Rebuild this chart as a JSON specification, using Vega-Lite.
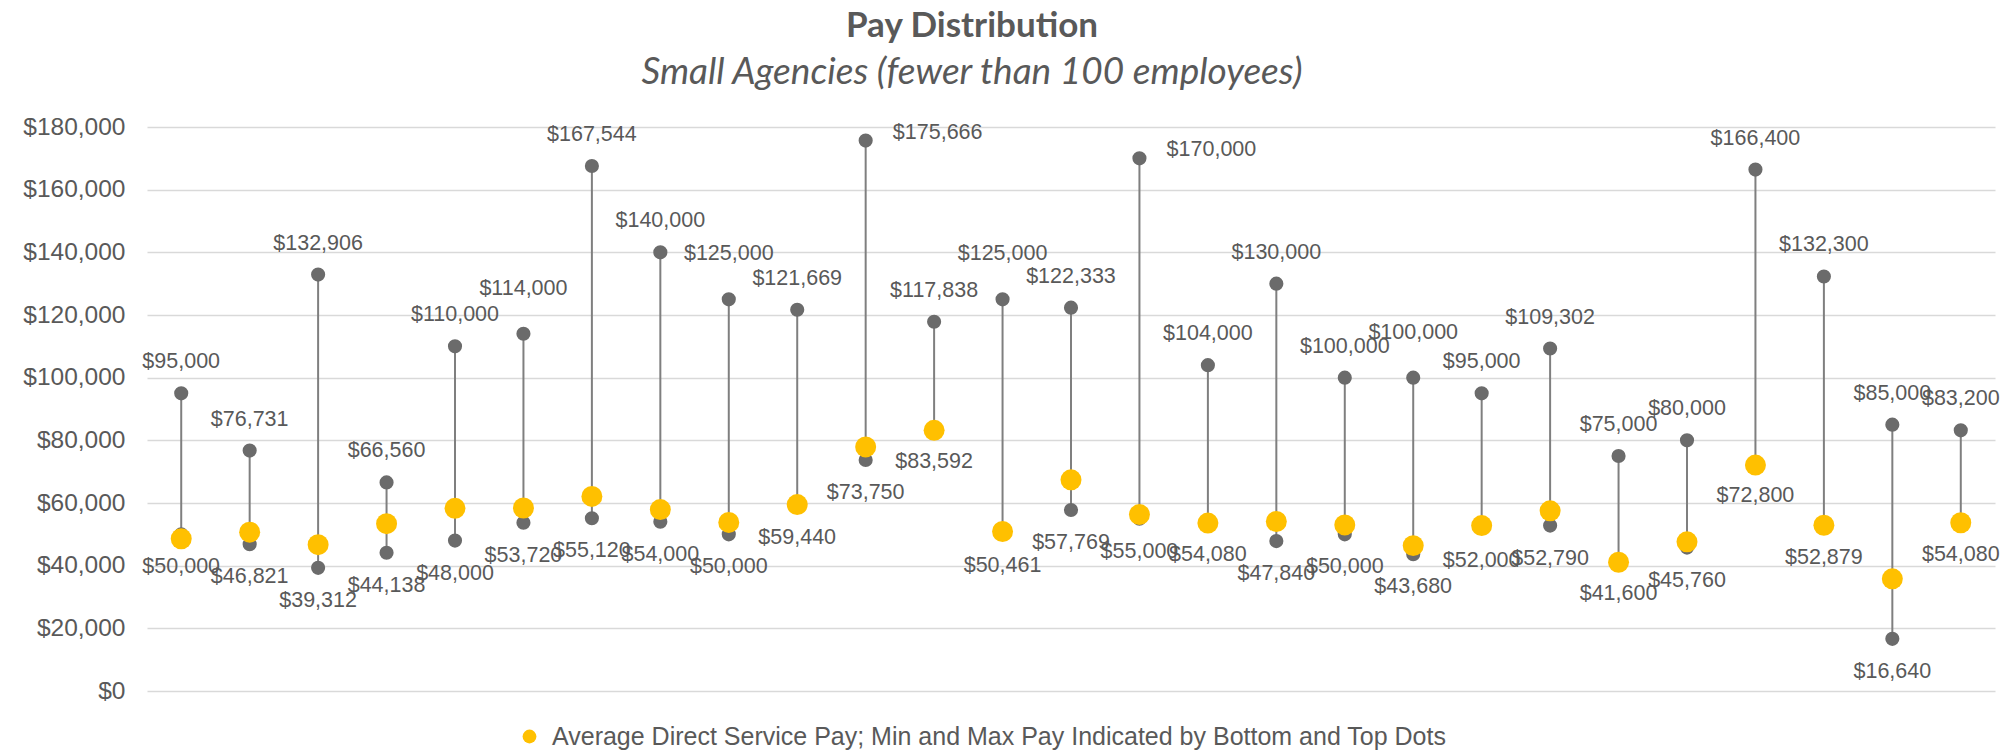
{
  "$schema": "https://vega.github.io/schema/vega-lite/v6.json",
  "autosize": {"type": "none"},
  "width": 1848,
  "height": 564,
  "padding": {"left": 147, "top": 127, "right": 13, "bottom": 61},
  "background": "#ffffff",
  "config": {"view": {"stroke": null}},
  "title": {
    "text": "Pay Distribution",
    "subtitle": "Small Agencies (fewer than 100 employees)",
    "anchor": "middle",
    "frame": "group",
    "dx": -99,
    "offset": 23,
    "font": "Lato",
    "fontSize": 35,
    "fontWeight": "bold",
    "color": "#595959",
    "subtitleFont": "Lato",
    "subtitleFontSize": 37,
    "subtitleFontStyle": "italic",
    "subtitleColor": "#595959",
    "subtitlePadding": 11
  },
  "data": {
    "values": [
      {"agency": 1, "max": 95000, "min": 50000, "avg": 48600},
      {"agency": 2, "max": 76731, "min": 46821, "avg": 50700},
      {"agency": 3, "max": 132906, "min": 39312, "avg": 46700},
      {"agency": 4, "max": 66560, "min": 44138, "avg": 53400},
      {"agency": 5, "max": 110000, "min": 48000, "avg": 58300},
      {"agency": 6, "max": 114000, "min": 53720, "avg": 58400},
      {"agency": 7, "max": 167544, "min": 55120, "avg": 62100},
      {"agency": 8, "max": 140000, "min": 54000, "avg": 57900},
      {"agency": 9, "max": 125000, "min": 50000, "avg": 53800},
      {"agency": 10, "max": 121669, "min": 59440, "avg": 59500},
      {"agency": 11, "max": 175666, "min": 73750, "avg": 77900},
      {"agency": 12, "max": 117838, "min": 83592, "avg": 83200},
      {"agency": 13, "max": 125000, "min": 50461, "avg": 50900},
      {"agency": 14, "max": 122333, "min": 57769, "avg": 67400},
      {"agency": 15, "max": 170000, "min": 55000, "avg": 56300},
      {"agency": 16, "max": 104000, "min": 54080, "avg": 53600},
      {"agency": 17, "max": 130000, "min": 47840, "avg": 54100},
      {"agency": 18, "max": 100000, "min": 50000, "avg": 53000},
      {"agency": 19, "max": 100000, "min": 43680, "avg": 46400},
      {"agency": 20, "max": 95000, "min": 52000, "avg": 52800},
      {"agency": 21, "max": 109302, "min": 52790, "avg": 57500},
      {"agency": 22, "max": 75000, "min": 41600, "avg": 41100},
      {"agency": 23, "max": 80000, "min": 45760, "avg": 47600},
      {"agency": 24, "max": 166400, "min": 72800, "avg": 72100},
      {"agency": 25, "max": 132300, "min": 52879, "avg": 52900},
      {"agency": 26, "max": 85000, "min": 16640, "avg": 35800},
      {"agency": 27, "max": 83200, "min": 54080, "avg": 53700}
    ]
  },
  "encoding": {
    "x": {
      "field": "agency",
      "type": "ordinal",
      "scale": {"type": "point", "padding": 0.5},
      "axis": null
    }
  },
  "layer": [
    {
      "mark": {"type": "rule", "color": "#7f7f7f", "strokeWidth": 2},
      "encoding": {
        "y": {
          "field": "min",
          "type": "quantitative",
          "scale": {"domain": [0, 180000]},
          "axis": {
            "values": [0, 20000, 40000, 60000, 80000, 100000, 120000, 140000, 160000, 180000],
            "format": "$,d",
            "title": null,
            "domain": false,
            "ticks": false,
            "labelPadding": 22,
            "labelFont": "Liberation Sans",
            "labelFontSize": 24.5,
            "labelColor": "#595959",
            "gridColor": "#d9d9d9",
            "gridWidth": 1.5
          }
        },
        "y2": {"field": "max"}
      }
    },
    {
      "mark": {"type": "circle", "color": "#6b6b6b", "opacity": 1, "size": 200},
      "encoding": {"y": {"field": "max", "type": "quantitative"}}
    },
    {
      "mark": {"type": "circle", "color": "#6b6b6b", "opacity": 1, "size": 200},
      "encoding": {"y": {"field": "min", "type": "quantitative"}}
    },
    {
      "mark": {"type": "circle", "opacity": 1, "size": 440},
      "encoding": {
        "y": {"field": "avg", "type": "quantitative"},
        "color": {
          "datum": "Average Direct Service Pay; Min and Max Pay Indicated by Bottom and Top Dots",
          "scale": {"range": ["#FFC000"]},
          "legend": {
            "orient": "none",
            "legendX": 370,
            "legendY": 597,
            "title": null,
            "padding": 0,
            "symbolType": "circle",
            "symbolSize": 190,
            "labelOffset": 10,
            "labelFont": "Liberation Sans",
            "labelFontSize": 25,
            "labelColor": "#595959",
            "labelLimit": 2000
          }
        }
      }
    },
    {
      "transform": [{"filter": "datum.agency != 6 && datum.agency != 9 && datum.agency != 11 && datum.agency != 13 && datum.agency != 15 && datum.agency != 19"}],
      "mark": {"type": "text", "dy": -31, "baseline": "middle", "font": "Liberation Sans", "fontSize": 21.5, "color": "#595959"},
      "encoding": {
        "y": {"field": "max", "type": "quantitative"},
        "text": {"field": "max", "type": "quantitative", "format": "$,d"}
      }
    },
    {
      "transform": [{"filter": "datum.agency == 6 || datum.agency == 9 || datum.agency == 13 || datum.agency == 19"}],
      "mark": {"type": "text", "dy": -45, "baseline": "middle", "font": "Liberation Sans", "fontSize": 21.5, "color": "#595959"},
      "encoding": {
        "y": {"field": "max", "type": "quantitative"},
        "text": {"field": "max", "type": "quantitative", "format": "$,d"}
      }
    },
    {
      "transform": [{"filter": "datum.agency == 11 || datum.agency == 15"}],
      "mark": {"type": "text", "dx": 72, "dy": -8, "baseline": "middle", "font": "Liberation Sans", "fontSize": 21.5, "color": "#595959"},
      "encoding": {
        "y": {"field": "max", "type": "quantitative"},
        "text": {"field": "max", "type": "quantitative", "format": "$,d"}
      }
    },
    {
      "mark": {"type": "text", "dy": 33, "baseline": "middle", "font": "Liberation Sans", "fontSize": 21.5, "color": "#595959"},
      "encoding": {
        "y": {"field": "min", "type": "quantitative"},
        "text": {"field": "min", "type": "quantitative", "format": "$,d"}
      }
    }
  ]
}
